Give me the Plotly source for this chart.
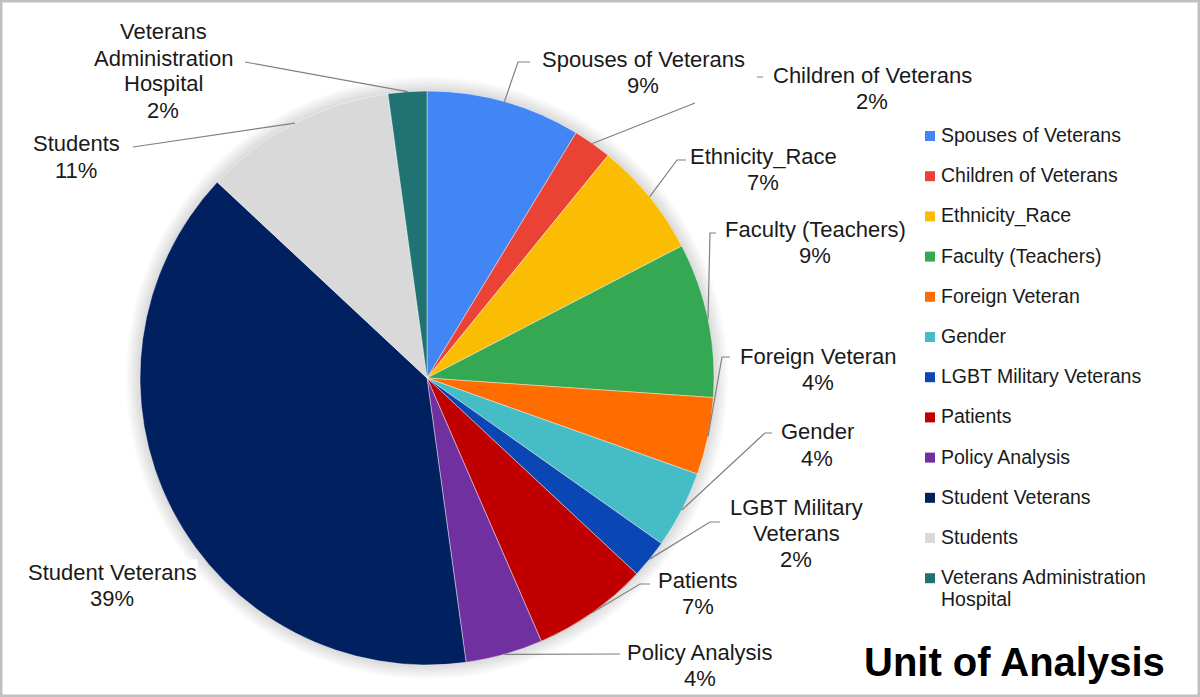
import math
import plotly.graph_objects as go

# slice order as drawn, clockwise from 12 o'clock
categories = ["Spouses of Veterans", "Children of Veterans", "Ethnicity_Race",
              "Faculty (Teachers)", "Foreign Veteran", "Gender",
              "LGBT Military Veterans", "Patients", "Policy Analysis",
              "Student Veterans", "Students", "Veterans Administration Hospital"]
counts = [4, 1, 3, 4, 2, 2, 1, 3, 2, 18, 5, 1]
colors = ["#4285F4", "#EA4335", "#FBBC04", "#34A853", "#FF6D01", "#46BDC6",
          "#0B47B4", "#C00000", "#7030A0", "#002060", "#D9D9D9", "#217373"]
pie_names = ["Spouses of Veterans", "Children of Veterans", "Ethnicity_Race",
             "Faculty (Teachers)", "Foreign Veteran", "Gender",
             "LGBT Military<br>Veterans", "Patients", "Policy Analysis",
             "Student Veterans", "Students", "Veterans<br>Administration<br>Hospital"]
legend_names = categories[:-1] + ["Veterans Administration<br>Hospital"]
title = "Unit of Analysis"

W, H = 1200, 697
CX, CY, R = 427, 378, 287
FONT = "Liberation Sans, Arial, sans-serif"
LABEL_FS, LABEL_LH = 22, 26
LEG_FS, LEG_LH = 19.5, 22

# label centres in pixels
label_pos = [(643, 72), (872, 88), (763, 169), (815, 242), (818, 369), (817, 445),
             (796, 533), (698, 593), (700, 665), (112, 585), (76, 157), (163, 71)]
# leader line points on the label side (None = pen up)
leader_pts = [
    [(518, 62), (530, 62)],
    [(695, 103), None, (757, 77), (763, 77)],
    [(677, 160), (686, 160)],
    [(710, 233), (716, 233)],
    [(722, 357), (730, 357)],
    [(765, 433), (772, 433)],
    [(710, 522), (720, 522)],
    [(640, 584), (650, 584)],
    [(620, 654)],
    [],
    [(133, 147)],
    [(245, 62)],
]


def px(x):
    return x / W


def py(y):
    return 1 - y / H


def text_lines(lines, x, y_center, lh, fs, xanchor, bg=None, color="#1a1a1a"):
    out = []
    n = len(lines)
    for j, line in enumerate(lines):
        yy = y_center + (j - (n - 1) / 2) * lh
        out.append(dict(x=px(x), y=py(yy), xref="paper", yref="paper",
                        xanchor=xanchor, yanchor="middle", text=line, showarrow=False,
                        font=dict(family=FONT, size=fs, color=color), bgcolor=bg, borderpad=0))
    return out


fig = go.Figure()
fig.add_trace(go.Pie(
    labels=categories,
    values=counts,
    marker=dict(colors=colors, line=dict(color="rgba(255,255,255,0.6)", width=0.7)),
    sort=False,
    direction="clockwise",
    rotation=0,
    textinfo="none",
    hoverinfo="label+percent",
    domain=dict(x=[px(CX - R), px(CX + R)], y=[py(CY + R), py(CY - R)]),
    showlegend=False,
))

shapes = []
# soft glow around the pie
for k in range(1, 8):
    r = R + 2 * k
    shapes.append(dict(type="circle", xref="paper", yref="paper",
                       x0=px(CX - r), x1=px(CX + r), y0=py(CY + r), y1=py(CY - r),
                       fillcolor="rgba(0,0,0,0.018)", line=dict(width=0), layer="below"))

annotations = []
total = sum(counts)
cum = 0
for i, c in enumerate(counts):
    mid = (cum + c / 2) / total * 2 * math.pi
    cum += c
    ex, ey = CX + R * math.sin(mid), CY - R * math.cos(mid)
    pts = leader_pts[i]
    if pts:
        path = f"M {px(ex)},{py(ey)}"
        pen = "L"
        for p in pts:
            if p is None:
                pen = "M"
                continue
            path += f" {pen} {px(p[0])},{py(p[1])}"
            pen = "L"
        shapes.append(dict(type="path", xref="paper", yref="paper", path=path,
                           line=dict(color="#808080", width=1.2), layer="above"))
    pct = round(c / total * 100)
    lx, ly = label_pos[i]
    lines = pie_names[i].split("<br>") + [f"{pct}%"]
    bg = "white" if categories[i] == "Student Veterans" else None
    annotations += text_lines(lines, lx, ly, LABEL_LH, LABEL_FS, "center", bg)

# legend
for i, name in enumerate(legend_names):
    row_y = 135 + 40.2 * i
    shapes.append(dict(type="rect", xref="paper", yref="paper",
                       x0=px(925), x1=px(935), y0=py(row_y + 6), y1=py(row_y - 4),
                       fillcolor=colors[i], line=dict(width=0)))
    lines = name.split("<br>")
    yc = row_y + (len(lines) - 1) * LEG_LH / 2
    annotations += text_lines(lines, 940, yc, LEG_LH, LEG_FS, "left")

annotations.append(dict(
    x=px(1014), y=py(662), xref="paper", yref="paper",
    xanchor="center", yanchor="middle", text=f"<b>{title}</b>", showarrow=False,
    font=dict(family=FONT, size=40, color="#000000"),
))

# outer frame
shapes.append(dict(type="rect", xref="paper", yref="paper", x0=0, x1=1, y0=0, y1=1,
                   line=dict(color="#c0c0c0", width=5), layer="above"))

fig.update_layout(
    width=W, height=H,
    margin=dict(l=0, r=0, t=0, b=0),
    paper_bgcolor="white",
    plot_bgcolor="white",
    showlegend=False,
    shapes=shapes,
    annotations=annotations,
)

fig.write_html("out.html", config={"displayModeBar": False},
               post_script="document.body.style.margin='0';")
